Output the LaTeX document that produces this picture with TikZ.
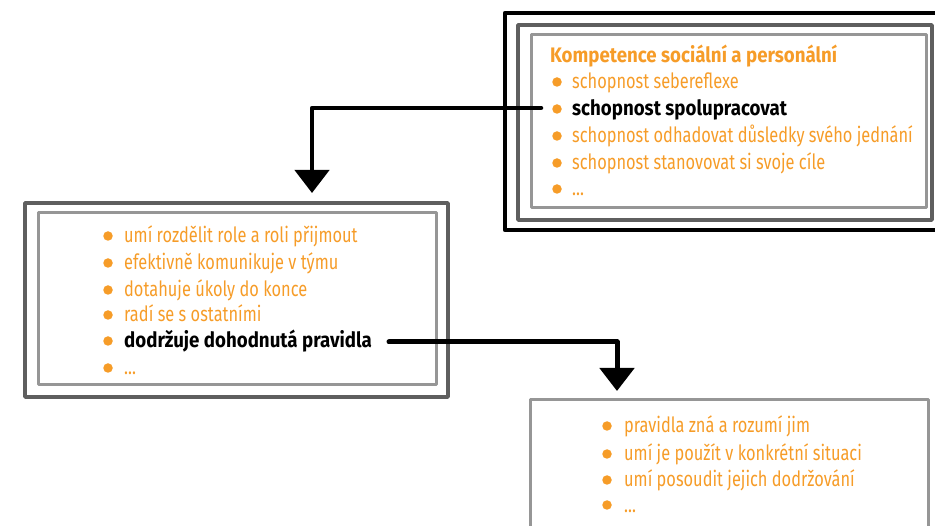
\documentclass[tikz,border=0pt]{standalone}
\usepackage{fontspec}
\setmainfont{Fira Sans}[FakeStretch=0.78, BoldFeatures={FakeStretch=0.89}]
\usetikzlibrary{arrows.meta}
\definecolor{orng}{RGB}{246,156,40}
\definecolor{darkframe}{RGB}{95,95,95}
\definecolor{lightframe}{RGB}{150,150,150}

\tikzset{
  blackframe/.style={draw=black, line width=4.5pt, line join=round},
  darkbox/.style={draw=darkframe, line width=3.5pt, line join=round},
  lightbox/.style={draw=lightframe, line width=3pt, line join=round},
  item/.style={anchor=base west, inner sep=0pt, text=orng, font=\fontsize{21}{25}\selectfont},
  keyitem/.style={item, text=black, font=\fontsize{21}{25}\selectfont\bfseries},
  heading/.style={item, font=\fontsize{21}{25}\selectfont\bfseries},
  dot/.style={circle, fill=orng, inner sep=0pt, minimum size=9.5pt},
  conn/.style={line width=4.5pt, line cap=round, line join=round,
    -{Triangle[width=34pt,length=23pt]}},
}

\begin{document}
\begin{tikzpicture}[x=1pt, y=-1pt]
\useasboundingbox (0,0) rectangle (935,526);
\clip (0,0) rectangle (935,526);

% ---- competence box (top right): three nested frames
\draw[blackframe] (505,13) rectangle (960,230);
\draw[darkbox] (518,25) rectangle (932,220);
\draw[lightbox] (531,35) rectangle (926,208);

\node[heading] (title) at (550,63) {Kompetence sociální a personální};
\foreach \y/\n in {89/c1, 116/c2, 143/c3, 170/c4, 196/c5}
  \node[dot] (d\n) at (557,\y-7) {};
\node[item]    (c1) at (572,89)  {schopnost sebereflexe};
\node[keyitem] (c2) at (572,116) {schopnost spolupracovat};
\node[item]    (c3) at (572,143) {schopnost odhadovat důsledky svého jednání};
\node[item]    (c4) at (572,170) {schopnost stanovovat si svoje cíle};
\node[item]    (c5) at (572,196) {...};

% ---- skills box (left): two nested frames
\draw[darkbox] (25,203) rectangle (448,397);
\draw[lightbox] (38,213) rectangle (436,385);

\foreach \y/\n in {243/s1, 270/s2, 297/s3, 322/s4, 348/s5, 375/s6}
  \node[dot] (d\n) at (108,\y-7) {};
\node[item]    (s1) at (124,243) {umí rozdělit role a roli přijmout};
\node[item]    (s2) at (124,270) {efektivně komunikuje v týmu};
\node[item]    (s3) at (124,297) {dotahuje úkoly do konce};
\node[item]    (s4) at (124,322) {radí se s ostatními};
\node[keyitem] (s5) at (124,348) {dodržuje dohodnutá pravidla};
\node[item]    (s6) at (124,375) {...};

% ---- rules box (bottom right): single frame
\draw[lightbox] (530,400) rectangle (928,560);

\foreach \y/\n in {433/r1, 461/r2, 487/r3, 512/r4}
  \node[dot] (d\n) at (607,\y-7) {};
\node[item] (r1) at (624,433) {pravidla zná a rozumí jim};
\node[item] (r2) at (624,461) {umí je použít v konkrétní situaci};
\node[item] (r3) at (624,487) {umí posoudit jejich dodržování};
\node[item] (r4) at (624,512) {...};

% ---- connectors
\coordinate (a1start) at (541,108);
\coordinate (a1end) at (312,193);
\coordinate (a2start) at (389,342);
\coordinate (a2end) at (617,391);
\draw[conn] (a1start) -| (a1end);
\draw[conn, line width=5pt] (a2start) -| (a2end);
\end{tikzpicture}
\end{document}
